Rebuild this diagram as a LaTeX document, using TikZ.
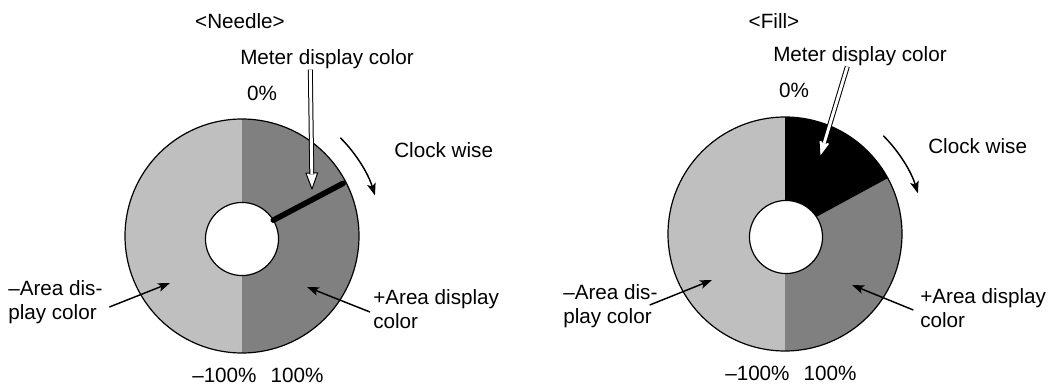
\documentclass[tikz,border=0pt]{standalone}
\usepackage{fontspec}
\setmainfont{Liberation Sans}
\usetikzlibrary{arrows.meta, calc}
\definecolor{minusgray}{gray}{0.75}
\definecolor{plusgray}{gray}{0.5}
\tikzstyle{txt} = [
    inner sep=0pt,
    align=left
]
\tikzstyle{ring} = [line width=0.9pt]
\tikzstyle{needle} = [line width=4.2pt, line cap=round]
\tikzstyle{arrow} = [line width=1.1pt, -{Stealth[length=9pt, width=6.5pt, inset=2pt]}]
\tikzstyle{hollow} = [double=white, double distance=2.2pt, line width=0.75pt]
\tikzstyle{hollowhead} = [fill=white, draw=black, line width=0.75pt, line join=round]

\begin{document}
\begin{tikzpicture}[x=0.75pt, y=0.75pt, font=\fontsize{15.5pt}{17.5pt}\selectfont]

\useasboundingbox (0,0) rectangle (1058,-385);

% ---------- Needle ----------
\coordinate (cL) at (242,-236);
\coordinate (ciL) at (242,-239);

\fill[minusgray] (cL) -- ++(90:87.75pt) arc[start angle=90, end angle=270, radius=87.75pt] -- cycle;
\fill[plusgray] (cL) -- ++(90:87.75pt) arc[start angle=90, end angle=-90, radius=87.75pt] -- cycle;
\draw[ring] (cL) circle[radius=87.75pt];
\draw[ring, fill=white] (ciL) circle[radius=27.4pt];
\draw[needle] ($(ciL)+(31:27.4pt)$) -- ($(cL)+(27.5:85.5pt)$);

\node (titleL) [txt, anchor=base] at (240,-29) {<Needle>};
\node (meterL) [txt, anchor=base west] at (240,-65) {Meter display color};
\node (zeroL) [txt, anchor=base] at (262,-100.5) {0\%};
\node (clockL) [txt, anchor=base west] at (394,-157) {Clock wise};
\node (minusL) [txt, anchor=base west] at (8,-319) {–Area dis-\\play color};
\node (plusL) [txt, anchor=base west] at (373,-328) {+Area display\\color};
\node (endsL) [txt, anchor=base west] at (192,-382.5) {–100\%\hspace{10.5pt}100\%};

\coordinate (meterTailL) at ([xshift=-12.5pt]meterL.south);
\coordinate (meterTipL) at (312,-189);
\coordinate (minusTipL) at (170,-283);
\coordinate (plusTipL) at (307,-287);

\coordinate (hbL) at ($(meterTipL)!12pt!(meterTailL)$);
\filldraw[hollowhead] (meterTipL) -- ($(hbL)!4.4pt!90:(meterTipL)$) -- ($(hbL)!4.4pt!-90:(meterTipL)$) -- cycle;
\draw[hollow] (meterTailL) -- ($(meterTipL)!11pt!(meterTailL)$);

\draw[arrow] ([shift={(5pt,9pt)}]minusL.base east) -- (minusTipL);
\draw[arrow] ([shift={(-2.25pt,12pt)}]plusL.base west) -- (plusTipL);
\draw[arrow] ($(cL)+(45:104.25pt)$) arc[start angle=45, end angle=17, radius=104.25pt];

% ---------- Fill ----------
\coordinate (cR) at (785,-234);
\coordinate (ciR) at (786,-237);

\fill[minusgray] (cR) -- ++(90:87.75pt) arc[start angle=90, end angle=270, radius=87.75pt] -- cycle;
\fill[plusgray] (cR) -- ++(28.5:87.75pt) arc[start angle=28.5, end angle=-90, radius=87.75pt] -- cycle;
\fill[black] (cR) -- ++(90:87.75pt) arc[start angle=90, end angle=28.5, radius=87.75pt] -- cycle;
\draw[ring] (cR) circle[radius=87.75pt];
\draw[ring, fill=white] (ciR) circle[radius=27.4pt];

\node (titleR) [txt, anchor=base] at (774,-29) {<Fill>};
\node (meterR) [txt, anchor=base west] at (773,-62) {Meter display color};
\node (zeroR) [txt, anchor=base] at (794,-98) {0\%};
\node (clockR) [txt, anchor=base west] at (928,-154) {Clock wise};
\node (minusR) [txt, anchor=base west] at (563,-323) {–Area dis-\\play color};
\node (plusR) [txt, anchor=base west] at (920,-327) {+Area display\\color};
\node (endsR) [txt, anchor=base west] at (725,-380) {–100\%\hspace{10.5pt}100\%};

\coordinate (meterTailR) at ([xshift=-9.5pt]meterR.south);
\coordinate (meterTipR) at (820,-157);
\coordinate (minusTipR) at (712,-280);
\coordinate (plusTipR) at (852,-285);

\coordinate (hbR) at ($(meterTipR)!12pt!(meterTailR)$);
\filldraw[hollowhead] (meterTipR) -- ($(hbR)!4.4pt!90:(meterTipR)$) -- ($(hbR)!4.4pt!-90:(meterTipR)$) -- cycle;
\draw[hollow] (meterTailR) -- ($(meterTipR)!11pt!(meterTailR)$);

\draw[arrow] ([shift={(-6pt,13.5pt)}]minusR.base east) -- (minusTipR);
\draw[arrow] ([shift={(-5pt,12.75pt)}]plusR.base west) -- (plusTipR);
\draw[arrow] ($(cR)+(45:104.25pt)$) arc[start angle=45, end angle=17, radius=104.25pt];

\end{tikzpicture}
\end{document}
